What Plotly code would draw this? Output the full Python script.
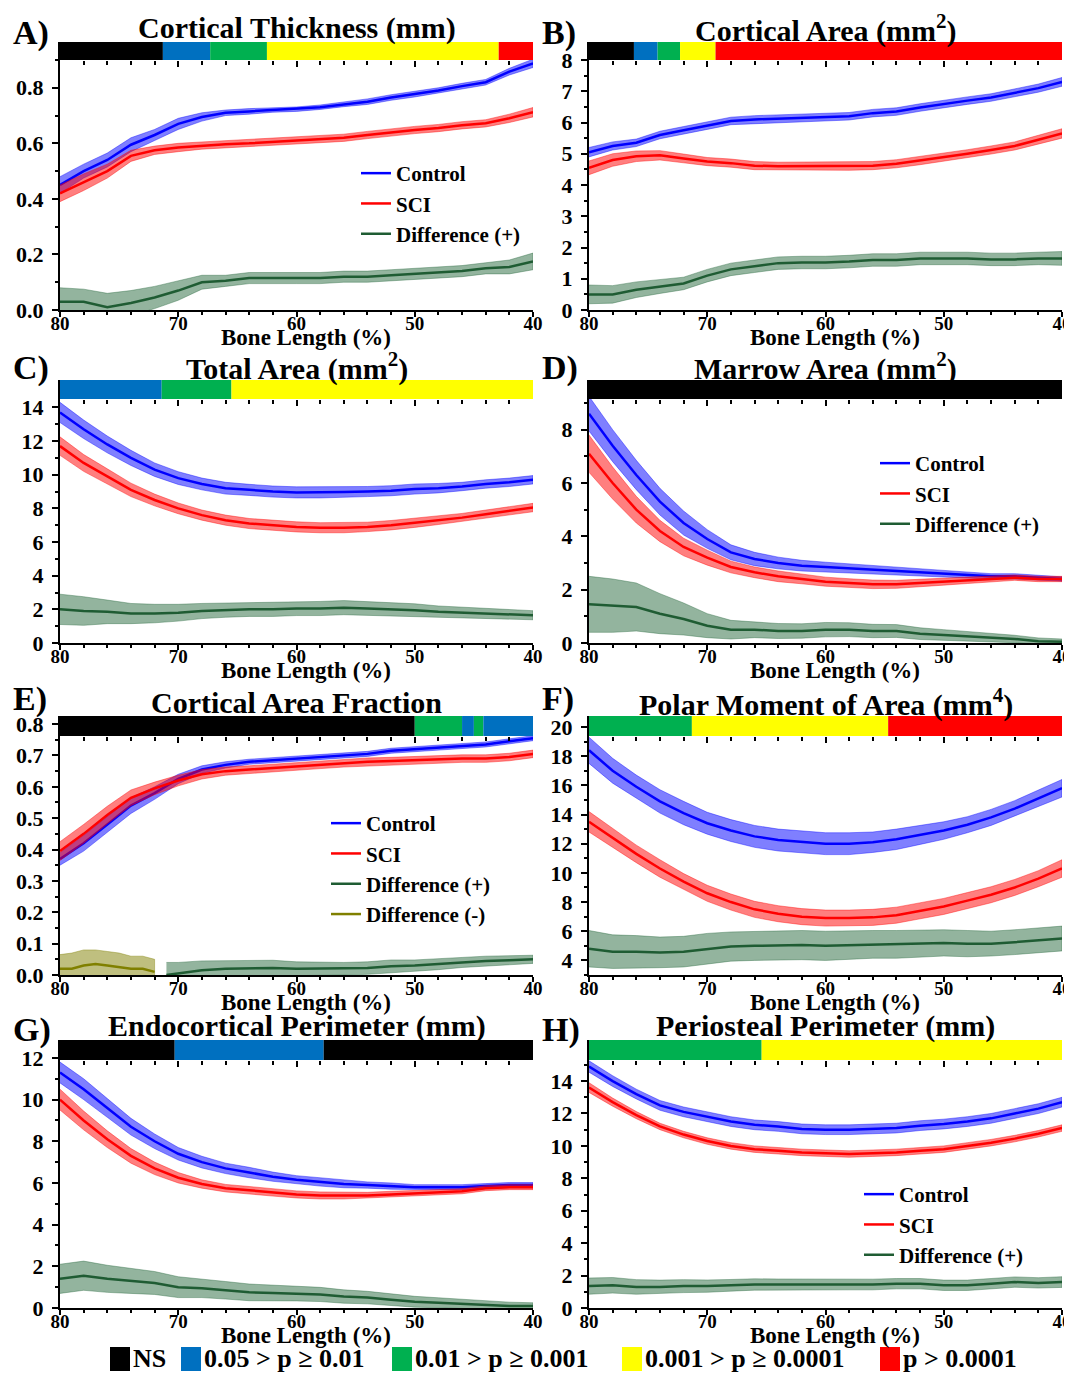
import plotly.graph_objects as go

FONT = "Liberation Serif"
PAGE_W, PAGE_H = 1072, 1375
BODY = 8                      # default page margin around the plot div
W, H = PAGE_W - BODY, PAGE_H - BODY

# ---------------- data ----------------
bone_length = [80, 78, 76, 74, 72, 70, 68, 66, 64, 62, 60, 58, 56, 54, 52, 50, 48, 46, 44, 42, 40]
x_tick_vals = [80, 70, 60, 50, 40]
x_tick_text = ["80", "70", "60", "50", "40"]

# A) Cortical Thickness
A_ctrl = [0.45, 0.50, 0.54, 0.595, 0.63, 0.67, 0.695, 0.71, 0.715, 0.72, 0.723, 0.73, 0.74, 0.75, 0.765, 0.777, 0.79, 0.806, 0.82, 0.858, 0.888]
A_ctrl_se = [0.03, 0.025, 0.025, 0.025, 0.02, 0.02, 0.015, 0.01, 0.01, 0.008, 0.008, 0.008, 0.008, 0.01, 0.01, 0.01, 0.01, 0.01, 0.01, 0.012, 0.015]
A_sci = [0.42, 0.46, 0.50, 0.555, 0.575, 0.585, 0.592, 0.597, 0.60, 0.605, 0.61, 0.615, 0.62, 0.63, 0.64, 0.648, 0.655, 0.665, 0.672, 0.69, 0.712]
A_sci_se = [0.03, 0.03, 0.025, 0.02, 0.015, 0.015, 0.013, 0.013, 0.013, 0.013, 0.013, 0.013, 0.013, 0.013, 0.013, 0.013, 0.013, 0.013, 0.013, 0.015, 0.017]
A_diff = [0.03, 0.03, 0.01, 0.025, 0.045, 0.07, 0.10, 0.105, 0.115, 0.115, 0.115, 0.115, 0.12, 0.12, 0.125, 0.13, 0.135, 0.14, 0.15, 0.155, 0.175]
A_diff_se = [0.05, 0.045, 0.05, 0.045, 0.04, 0.035, 0.025, 0.02, 0.02, 0.02, 0.02, 0.02, 0.02, 0.02, 0.02, 0.02, 0.02, 0.02, 0.02, 0.025, 0.03]
A_yticks = [0.0, 0.2, 0.4, 0.6, 0.8]
A_yticktext = ["0.0", "0.2", "0.4", "0.6", "0.8"]
A_sig_edges = [80, 71.3, 67.3, 62.5, 42.9, 40]
A_sig_levels = ["NS", "p05", "p01", "p001", "p0001"]

# B) Cortical Area
B_ctrl = [5.05, 5.25, 5.35, 5.6, 5.75, 5.9, 6.05, 6.1, 6.12, 6.15, 6.17, 6.2, 6.3, 6.35, 6.48, 6.6, 6.7, 6.8, 6.95, 7.1, 7.3]
B_ctrl_se = [0.15, 0.13, 0.12, 0.12, 0.12, 0.12, 0.12, 0.12, 0.12, 0.12, 0.12, 0.12, 0.12, 0.12, 0.12, 0.12, 0.12, 0.12, 0.12, 0.13, 0.14]
B_sci = [4.55, 4.8, 4.92, 4.95, 4.85, 4.75, 4.7, 4.62, 4.6, 4.6, 4.6, 4.6, 4.62, 4.68, 4.78, 4.9, 5.0, 5.12, 5.25, 5.45, 5.65]
B_sci_se = [0.22, 0.2, 0.17, 0.15, 0.14, 0.13, 0.13, 0.13, 0.13, 0.13, 0.13, 0.13, 0.13, 0.13, 0.13, 0.13, 0.13, 0.13, 0.13, 0.14, 0.15]
B_diff = [0.5, 0.5, 0.65, 0.75, 0.85, 1.1, 1.3, 1.4, 1.5, 1.52, 1.52, 1.55, 1.6, 1.6, 1.65, 1.65, 1.65, 1.62, 1.62, 1.65, 1.65]
B_diff_se = [0.3, 0.28, 0.25, 0.22, 0.2, 0.2, 0.2, 0.2, 0.2, 0.2, 0.2, 0.2, 0.2, 0.2, 0.2, 0.2, 0.2, 0.2, 0.2, 0.2, 0.22]
B_yticks = [0, 1, 2, 3, 4, 5, 6, 7, 8]
B_yticktext = ["0", "1", "2", "3", "4", "5", "6", "7", "8"]
B_sig_edges = [80, 76.2, 74.2, 72.3, 69.3, 40]
B_sig_levels = ["NS", "p05", "p01", "p001", "p0001"]

# C) Total Area
C_ctrl = [13.7, 12.7, 11.8, 11.0, 10.3, 9.8, 9.45, 9.2, 9.1, 9.0, 8.95, 8.95, 8.97, 9.0, 9.05, 9.15, 9.2, 9.3, 9.45, 9.55, 9.7]
C_ctrl_se = [0.6, 0.55, 0.5, 0.45, 0.4, 0.38, 0.35, 0.35, 0.33, 0.33, 0.33, 0.33, 0.33, 0.3, 0.3, 0.3, 0.28, 0.25, 0.25, 0.25, 0.25]
C_sci = [11.7, 10.7, 9.9, 9.1, 8.5, 8.0, 7.6, 7.3, 7.1, 7.0, 6.9, 6.85, 6.85, 6.9, 7.0, 7.15, 7.3, 7.45, 7.65, 7.85, 8.05]
C_sci_se = [0.55, 0.5, 0.45, 0.4, 0.35, 0.32, 0.3, 0.3, 0.3, 0.3, 0.3, 0.3, 0.3, 0.28, 0.28, 0.28, 0.26, 0.25, 0.25, 0.25, 0.25]
C_diff = [2.0, 1.9, 1.85, 1.75, 1.75, 1.8, 1.9, 1.95, 2.0, 2.0, 2.05, 2.05, 2.1, 2.05, 2.0, 1.95, 1.85, 1.8, 1.75, 1.7, 1.65]
C_diff_se = [0.9, 0.85, 0.7, 0.6, 0.55, 0.5, 0.45, 0.42, 0.42, 0.42, 0.42, 0.42, 0.42, 0.42, 0.4, 0.38, 0.35, 0.32, 0.3, 0.28, 0.27]
C_yticks = [0, 2, 4, 6, 8, 10, 12, 14]
C_yticktext = ["0", "2", "4", "6", "8", "10", "12", "14"]
C_sig_edges = [80, 71.4, 65.5, 40]
C_sig_levels = ["p05", "p01", "p001"]

# D) Marrow Area
D_ctrl = [8.6, 7.4, 6.3, 5.3, 4.5, 3.9, 3.4, 3.15, 3.0, 2.9, 2.85, 2.8, 2.75, 2.7, 2.65, 2.6, 2.55, 2.5, 2.5, 2.45, 2.4]
D_ctrl_se = [0.65, 0.6, 0.55, 0.5, 0.45, 0.35, 0.28, 0.25, 0.22, 0.2, 0.18, 0.17, 0.16, 0.15, 0.14, 0.12, 0.11, 0.1, 0.1, 0.09, 0.08]
D_sci = [7.1, 6.0, 5.0, 4.2, 3.6, 3.2, 2.85, 2.65, 2.5, 2.4, 2.3, 2.25, 2.2, 2.2, 2.25, 2.3, 2.35, 2.4, 2.45, 2.4, 2.4]
D_sci_se = [0.7, 0.6, 0.5, 0.4, 0.33, 0.28, 0.22, 0.2, 0.2, 0.18, 0.17, 0.16, 0.16, 0.15, 0.14, 0.13, 0.12, 0.1, 0.1, 0.1, 0.1]
D_diff = [1.45, 1.4, 1.35, 1.1, 0.9, 0.65, 0.5, 0.5, 0.45, 0.45, 0.5, 0.5, 0.45, 0.45, 0.35, 0.3, 0.25, 0.2, 0.15, 0.07, 0.05]
D_diff_se = [1.05, 1.0, 0.9, 0.75, 0.6, 0.45, 0.35, 0.3, 0.28, 0.27, 0.27, 0.26, 0.25, 0.24, 0.22, 0.2, 0.18, 0.16, 0.14, 0.12, 0.1]
D_yticks = [0, 2, 4, 6, 8]
D_yticktext = ["0", "2", "4", "6", "8"]
D_sig_edges = [80, 40]
D_sig_levels = ["NS"]

# E) Cortical Area Fraction
E_ctrl = [0.37, 0.42, 0.48, 0.54, 0.58, 0.625, 0.655, 0.67, 0.68, 0.685, 0.69, 0.695, 0.70, 0.705, 0.715, 0.72, 0.725, 0.73, 0.735, 0.745, 0.755]
E_ctrl_se = [0.02, 0.025, 0.025, 0.025, 0.02, 0.015, 0.012, 0.01, 0.008, 0.008, 0.008, 0.008, 0.008, 0.008, 0.008, 0.008, 0.008, 0.008, 0.008, 0.008, 0.008]
E_sci = [0.395, 0.45, 0.51, 0.565, 0.595, 0.62, 0.64, 0.65, 0.655, 0.66, 0.665, 0.67, 0.675, 0.68, 0.682, 0.685, 0.687, 0.69, 0.69, 0.695, 0.705]
E_sci_se = [0.03, 0.03, 0.028, 0.025, 0.02, 0.017, 0.015, 0.013, 0.012, 0.012, 0.012, 0.012, 0.012, 0.012, 0.012, 0.012, 0.012, 0.012, 0.012, 0.012, 0.012]
E_diffpos_x = [71, 70, 68, 66, 64, 62, 60, 58, 56, 54, 52, 50, 48, 46, 44, 42, 40]
E_diffpos = [0.0, 0.005, 0.015, 0.02, 0.022, 0.022, 0.02, 0.02, 0.02, 0.022, 0.028, 0.03, 0.035, 0.04, 0.045, 0.047, 0.05]
E_diffpos_se = [0.04, 0.035, 0.03, 0.025, 0.025, 0.025, 0.022, 0.02, 0.02, 0.02, 0.02, 0.018, 0.018, 0.016, 0.015, 0.014, 0.013]
E_diffneg_x = [80, 79, 78, 77, 76, 75, 74, 73, 72]
E_diffneg = [0.02, 0.02, 0.03, 0.035, 0.03, 0.025, 0.02, 0.02, 0.01]
E_diffneg_se = [0.045, 0.05, 0.05, 0.045, 0.045, 0.045, 0.04, 0.04, 0.04]
E_yticks = [0.0, 0.1, 0.2, 0.3, 0.4, 0.5, 0.6, 0.7, 0.8]
E_yticktext = ["0.0", "0.1", "0.2", "0.3", "0.4", "0.5", "0.6", "0.7", "0.8"]
E_sig_edges = [80, 50, 46, 45, 44.2, 40]
E_sig_levels = ["NS", "p01", "p05", "p01", "p05"]

# F) Polar Moment of Area
F_ctrl = [18.4, 17.0, 15.9, 14.9, 14.1, 13.4, 12.9, 12.5, 12.25, 12.1, 12.0, 12.0, 12.1, 12.3, 12.6, 12.9, 13.3, 13.8, 14.4, 15.1, 15.8]
F_ctrl_se = [0.9, 0.85, 0.8, 0.8, 0.8, 0.75, 0.75, 0.75, 0.75, 0.75, 0.75, 0.75, 0.7, 0.7, 0.65, 0.6, 0.55, 0.55, 0.55, 0.55, 0.6]
F_sci = [13.5, 12.4, 11.3, 10.3, 9.4, 8.6, 8.0, 7.5, 7.2, 7.0, 6.9, 6.9, 6.95, 7.1, 7.4, 7.7, 8.1, 8.5, 9.0, 9.6, 10.3]
F_sci_se = [0.7, 0.65, 0.6, 0.6, 0.55, 0.55, 0.55, 0.55, 0.55, 0.55, 0.55, 0.55, 0.55, 0.55, 0.55, 0.55, 0.55, 0.55, 0.55, 0.55, 0.6]
F_diff = [4.8, 4.6, 4.6, 4.55, 4.6, 4.8, 4.95, 5.0, 5.05, 5.05, 5.0, 5.05, 5.1, 5.1, 5.15, 5.2, 5.15, 5.15, 5.25, 5.35, 5.5]
F_diff_se = [1.25, 1.15, 1.1, 1.05, 1.05, 1.05, 1.0, 1.0, 1.0, 1.0, 1.0, 1.0, 0.95, 0.95, 0.95, 0.9, 0.9, 0.85, 0.85, 0.85, 0.85]
F_yticks = [4, 6, 8, 10, 12, 14, 16, 18, 20]
F_yticktext = ["4", "6", "8", "10", "12", "14", "16", "18", "20"]
F_sig_edges = [80, 71.3, 54.7, 40]
F_sig_levels = ["p01", "p001", "p0001"]

# G) Endocortical Perimeter
G_ctrl = [11.3, 10.5, 9.6, 8.7, 8.0, 7.4, 7.0, 6.7, 6.5, 6.3, 6.15, 6.05, 5.95, 5.9, 5.85, 5.8, 5.8, 5.8, 5.85, 5.9, 5.9]
G_ctrl_se = [0.5, 0.5, 0.45, 0.4, 0.35, 0.3, 0.28, 0.25, 0.25, 0.22, 0.2, 0.2, 0.18, 0.15, 0.15, 0.12, 0.12, 0.12, 0.12, 0.12, 0.12]
G_sci = [10.0, 9.0, 8.1, 7.3, 6.7, 6.25, 5.95, 5.75, 5.65, 5.55, 5.45, 5.4, 5.4, 5.4, 5.45, 5.5, 5.55, 5.6, 5.75, 5.8, 5.8]
G_sci_se = [0.5, 0.45, 0.4, 0.35, 0.3, 0.25, 0.2, 0.18, 0.18, 0.18, 0.17, 0.17, 0.17, 0.15, 0.15, 0.13, 0.12, 0.12, 0.12, 0.12, 0.12]
G_diff = [1.4, 1.55, 1.4, 1.3, 1.2, 1.0, 0.95, 0.85, 0.75, 0.72, 0.7, 0.65, 0.55, 0.5, 0.4, 0.3, 0.25, 0.2, 0.15, 0.1, 0.1]
G_diff_se = [0.7, 0.7, 0.65, 0.6, 0.55, 0.5, 0.45, 0.42, 0.4, 0.38, 0.36, 0.34, 0.32, 0.3, 0.28, 0.26, 0.24, 0.22, 0.2, 0.18, 0.15]
G_yticks = [0, 2, 4, 6, 8, 10, 12]
G_yticktext = ["0", "2", "4", "6", "8", "10", "12"]
G_sig_edges = [80, 70.3, 57.7, 40]
G_sig_levels = ["NS", "p05", "NS"]

# H) Periosteal Perimeter
H_ctrl = [14.9, 14.0, 13.2, 12.5, 12.1, 11.8, 11.5, 11.3, 11.2, 11.05, 11.0, 11.0, 11.05, 11.1, 11.25, 11.35, 11.5, 11.7, 12.0, 12.3, 12.7]
H_ctrl_se = [0.35, 0.33, 0.3, 0.3, 0.3, 0.3, 0.3, 0.3, 0.3, 0.3, 0.3, 0.3, 0.3, 0.3, 0.3, 0.3, 0.3, 0.3, 0.3, 0.3, 0.3]
H_sci = [13.6, 12.7, 11.9, 11.2, 10.7, 10.3, 10.0, 9.8, 9.7, 9.6, 9.55, 9.5, 9.55, 9.6, 9.7, 9.8, 10.0, 10.2, 10.45, 10.75, 11.1]
H_sci_se = [0.3, 0.25, 0.22, 0.2, 0.2, 0.2, 0.2, 0.2, 0.2, 0.2, 0.2, 0.2, 0.2, 0.2, 0.2, 0.2, 0.2, 0.2, 0.2, 0.2, 0.2]
H_diff = [1.35, 1.4, 1.3, 1.3, 1.35, 1.35, 1.4, 1.45, 1.45, 1.45, 1.45, 1.45, 1.45, 1.5, 1.5, 1.4, 1.4, 1.5, 1.6, 1.55, 1.6]
H_diff_se = [0.5, 0.48, 0.45, 0.42, 0.4, 0.38, 0.36, 0.35, 0.34, 0.33, 0.33, 0.33, 0.33, 0.32, 0.32, 0.32, 0.32, 0.32, 0.32, 0.32, 0.33]
H_yticks = [0, 2, 4, 6, 8, 10, 12, 14]
H_yticktext = ["0", "2", "4", "6", "8", "10", "12", "14"]
H_sig_edges = [80, 65.4, 40]
H_sig_levels = ["p01", "p001"]

sig_keys = ["NS", "p05", "p01", "p001", "p0001"]
sig_labels = ["NS", "0.05 > p ≥ 0.01", "0.01 > p ≥ 0.001", "0.001 > p ≥ 0.0001", "p > 0.0001"]
sig_colors = {"NS": "#000000", "p05": "#0070C0", "p01": "#00B050", "p001": "#FFFF00", "p0001": "#FF0000"}

# ---------------- styles / layout ----------------
C_CTRL, C_CTRL_BAND = "#0000FF", "rgba(0,0,255,0.5)"
C_SCI, C_SCI_BAND = "#FF0000", "rgba(255,0,0,0.5)"
C_DIFF, C_DIFF_BAND = "#1F5C33", "rgba(40,105,62,0.5)"
C_NEG, C_NEG_BAND = "#808000", "rgba(128,128,0,0.5)"

# geometry in page pixels
COLS = [(60, 533), (589, 1062)]
ROWS = [(42, 60, 310), (380, 399, 643), (716, 736, 975), (1040, 1060, 1308)]
LABEL_Y = [33, 368, 699, 1030]


def fx(px):
    return (px - BODY) / W


def fy(px):
    return 1 - (px - BODY) / H


panels = [
    dict(lab="A)", title="Cortical Thickness (mm)", ymin=0, ytop=0.9, minor=0.1, yt=A_yticks, ytt=A_yticktext,
         ctrl=A_ctrl, ctrl_se=A_ctrl_se, sci=A_sci, sci_se=A_sci_se, diff=A_diff, diff_se=A_diff_se,
         edges=A_sig_edges, levels=A_sig_levels, legend="legend"),
    dict(lab="B)", title="Cortical Area (mm<sup>2</sup>)", ymin=0, ytop=8, minor=0.5, yt=B_yticks, ytt=B_yticktext,
         ctrl=B_ctrl, ctrl_se=B_ctrl_se, sci=B_sci, sci_se=B_sci_se, diff=B_diff, diff_se=B_diff_se,
         edges=B_sig_edges, levels=B_sig_levels, legend=None),
    dict(lab="C)", title="Total Area (mm<sup>2</sup>)", ymin=0, ytop=14.5, minor=1, yt=C_yticks, ytt=C_yticktext,
         ctrl=C_ctrl, ctrl_se=C_ctrl_se, sci=C_sci, sci_se=C_sci_se, diff=C_diff, diff_se=C_diff_se,
         edges=C_sig_edges, levels=C_sig_levels, legend=None),
    dict(lab="D)", title="Marrow Area (mm<sup>2</sup>)", ymin=0, ytop=9.15, minor=1, yt=D_yticks, ytt=D_yticktext,
         ctrl=D_ctrl, ctrl_se=D_ctrl_se, sci=D_sci, sci_se=D_sci_se, diff=D_diff, diff_se=D_diff_se,
         edges=D_sig_edges, levels=D_sig_levels, legend="legend2"),
    dict(lab="E)", title="Cortical Area Fraction", ymin=0, ytop=0.762, minor=0.05, yt=E_yticks, ytt=E_yticktext,
         ctrl=E_ctrl, ctrl_se=E_ctrl_se, sci=E_sci, sci_se=E_sci_se, diff=None, diff_se=None,
         edges=E_sig_edges, levels=E_sig_levels, legend="legend3"),
    dict(lab="F)", title="Polar Moment of Area (mm<sup>4</sup>)", ymin=3, ytop=19.38, minor=1, yt=F_yticks, ytt=F_yticktext,
         ctrl=F_ctrl, ctrl_se=F_ctrl_se, sci=F_sci, sci_se=F_sci_se, diff=F_diff, diff_se=F_diff_se,
         edges=F_sig_edges, levels=F_sig_levels, legend=None),
    dict(lab="G)", title="Endocortical Perimeter (mm)", ymin=0, ytop=11.9, minor=1, yt=G_yticks, ytt=G_yticktext,
         ctrl=G_ctrl, ctrl_se=G_ctrl_se, sci=G_sci, sci_se=G_sci_se, diff=G_diff, diff_se=G_diff_se,
         edges=G_sig_edges, levels=G_sig_levels, legend=None),
    dict(lab="H)", title="Periosteal Perimeter (mm)", ymin=0, ytop=15.3, minor=1, yt=H_yticks, ytt=H_yticktext,
         ctrl=H_ctrl, ctrl_se=H_ctrl_se, sci=H_sci, sci_se=H_sci_se, diff=H_diff, diff_se=H_diff_se,
         edges=H_sig_edges, levels=H_sig_levels, legend="legend4"),
]

fig = go.Figure()
shapes, annotations = [], []
layout_axes = {}


def add_band(xs, ys, se, fill, xa, ya):
    upper = [y + s for y, s in zip(ys, se)]
    lower = [y - s for y, s in zip(ys, se)]
    fig.add_trace(go.Scatter(x=list(xs) + list(xs)[::-1], y=upper + lower[::-1], mode="lines",
                             fill="toself", fillcolor=fill, line=dict(color=fill, width=0.8),
                             showlegend=False, hoverinfo="skip", xaxis=xa, yaxis=ya))


def add_line(xs, ys, color, name, xa, ya, legend):
    kw = dict(showlegend=legend is not None)
    if legend is not None:
        kw["legend"] = legend
    fig.add_trace(go.Scatter(x=xs, y=ys, mode="lines", line=dict(color=color, width=2.5), name=name,
                             xaxis=xa, yaxis=ya, **kw))


minor_x = [v for v in bone_length if v % 10 != 0]
xtickfont = dict(family=FONT, size=19, color="black", weight="bold")
ytickfont = dict(family=FONT, size=22, color="black", weight="bold")

for i, p in enumerate(panels):
    n = i + 1
    col = COLS[i % 2]
    bartop, plottop, bottom = ROWS[i // 2]
    xa = "x" if n == 1 else f"x{n}"
    ya = "y" if n == 1 else f"y{n}"
    xkey = "xaxis" if n == 1 else f"xaxis{n}"
    ykey = "yaxis" if n == 1 else f"yaxis{n}"

    ppu = (bottom - plottop) / (p["ytop"] - p["ymin"])
    yext = p["ytop"] + (plottop - bartop) / ppu

    # bands & lines
    add_band(bone_length, p["ctrl"], p["ctrl_se"], C_CTRL_BAND, xa, ya)
    add_line(bone_length, p["ctrl"], C_CTRL, "Control", xa, ya, p["legend"])
    add_band(bone_length, p["sci"], p["sci_se"], C_SCI_BAND, xa, ya)
    add_line(bone_length, p["sci"], C_SCI, "SCI", xa, ya, p["legend"])
    if p["diff"] is not None:
        add_band(bone_length, p["diff"], p["diff_se"], C_DIFF_BAND, xa, ya)
        add_line(bone_length, p["diff"], C_DIFF, "Difference (+)", xa, ya, p["legend"])
    else:
        add_band(E_diffpos_x, E_diffpos, E_diffpos_se, C_DIFF_BAND, xa, ya)
        add_line(E_diffpos_x, E_diffpos, C_DIFF, "Difference (+)", xa, ya, p["legend"])
        add_band(E_diffneg_x, E_diffneg, E_diffneg_se, C_NEG_BAND, xa, ya)
        add_line(E_diffneg_x, E_diffneg, C_NEG, "Difference (-)", xa, ya, p["legend"])

    # axes
    layout_axes[xkey] = dict(domain=[fx(col[0]), fx(col[1])], anchor=ya, range=[80, 40], automargin=False,
                             tickmode="array", tickvals=x_tick_vals, ticktext=x_tick_text,
                             ticks="outside", ticklen=5, tickwidth=2, tickcolor="black",
                             ticklabelstandoff=-10, ticklabeloverflow="allow",
                             minor=dict(ticks="outside", tickmode="array", tickvals=minor_x, ticklen=3,
                                        tickwidth=2, tickcolor="black"),
                             showline=True, linecolor="black", linewidth=2, showgrid=False, zeroline=False,
                             tickfont=xtickfont, fixedrange=True)
    nstep = int(round((p["ytop"] - p["ymin"]) / p["minor"]))
    minor_y = [round(p["ymin"] + k * p["minor"], 4) for k in range(nstep + 1)]
    minor_y = [v for v in minor_y if all(abs(v - t) > 1e-9 for t in p["yt"])]
    layout_axes[ykey] = dict(domain=[fy(bottom), fy(bartop)], anchor=xa, range=[p["ymin"], yext],
                             automargin=False, ticklabelstandoff=4, ticklabeloverflow="allow",
                             tickmode="array", tickvals=p["yt"], ticktext=p["ytt"],
                             ticks="outside", ticklen=6, tickwidth=2, tickcolor="black",
                             minor=dict(ticks="outside", tickmode="array", tickvals=minor_y, ticklen=3,
                                        tickwidth=2, tickcolor="black"),
                             showline=True, linecolor="black", linewidth=2, showgrid=False, zeroline=False,
                             tickfont=ytickfont, fixedrange=True)
    # top (inside) tick axis at top of plotting area
    tkey = f"xaxis{n + 8}"
    layout_axes[tkey] = dict(overlaying=xa, anchor="free", position=fy(plottop), side="top", range=[80, 40],
                             automargin=False,
                             tickmode="array", tickvals=x_tick_vals, ticks="inside", ticklen=6, tickwidth=2,
                             tickcolor="black", showticklabels=False, showline=False, showgrid=False,
                             zeroline=False,
                             minor=dict(ticks="inside", tickmode="array", tickvals=minor_x, ticklen=4,
                                        tickwidth=2, tickcolor="black"), fixedrange=True)
    fig.add_trace(go.Scatter(x=[None], y=[None], xaxis=f"x{n + 8}", yaxis=ya, showlegend=False,
                             hoverinfo="skip"))

    # significance bar
    for k, lev in enumerate(p["levels"]):
        shapes.append(dict(type="rect", xref=xa, yref=ya, x0=p["edges"][k], x1=p["edges"][k + 1],
                           y0=p["ytop"], y1=yext, fillcolor=sig_colors[lev], line=dict(width=0),
                           layer="above"))

    # titles / labels
    xc = (col[0] + col[1]) / 2
    annotations.append(dict(text=p["title"], x=fx(xc), y=fy(bartop - 14), xref="paper", yref="paper",
                            xanchor="center", yanchor="middle", showarrow=False,
                            font=dict(family=FONT, size=30, color="black", weight="bold")))
    annotations.append(dict(text=p["lab"], x=fx(col[0] - 49), y=fy(LABEL_Y[i // 2]), xref="paper",
                            yref="paper", xanchor="left", yanchor="middle", showarrow=False,
                            font=dict(family=FONT, size=34, color="black", weight="bold")))
    annotations.append(dict(text="Bone Length (%)", x=fx(xc + 9), y=fy(bottom + 27), xref="paper",
                            yref="paper", xanchor="center", yanchor="middle", showarrow=False,
                            font=dict(family=FONT, size=23, color="black", weight="bold")))

# bottom significance key
key_sw = [110, 181, 392, 622, 880]
for k, key in enumerate(sig_keys):
    shapes.append(dict(type="rect", xref="paper", yref="paper", x0=fx(key_sw[k]), x1=fx(key_sw[k] + 20),
                       y0=fy(1371), y1=fy(1347), fillcolor=sig_colors[key], line=dict(width=0)))
    annotations.append(dict(text=sig_labels[k], x=fx(key_sw[k] + 21), y=fy(1358), xref="paper", yref="paper",
                            xanchor="left", yanchor="middle", showarrow=False,
                            font=dict(family=FONT, size=26, color="black", weight="bold")))

leg_font = dict(family=FONT, size=21, color="black", weight="bold")
leg_common = dict(xref="paper", yref="paper", xanchor="left", yanchor="top", bgcolor="rgba(0,0,0,0)",
                  font=leg_font, tracegroupgap=0, itemwidth=30)

fig.update_layout(
    width=W, height=H, margin=dict(l=0, r=0, t=0, b=0, autoexpand=False),
    paper_bgcolor="white", plot_bgcolor="white",
    shapes=shapes, annotations=annotations,
    legend=dict(x=fx(356), y=fy(153), **leg_common),
    legend2=dict(x=fx(875), y=fy(443), **leg_common),
    legend3=dict(x=fx(326), y=fy(803), **leg_common),
    legend4=dict(x=fx(859), y=fy(1174), **leg_common),
    **layout_axes,
)

fig.write_html("out.html")
